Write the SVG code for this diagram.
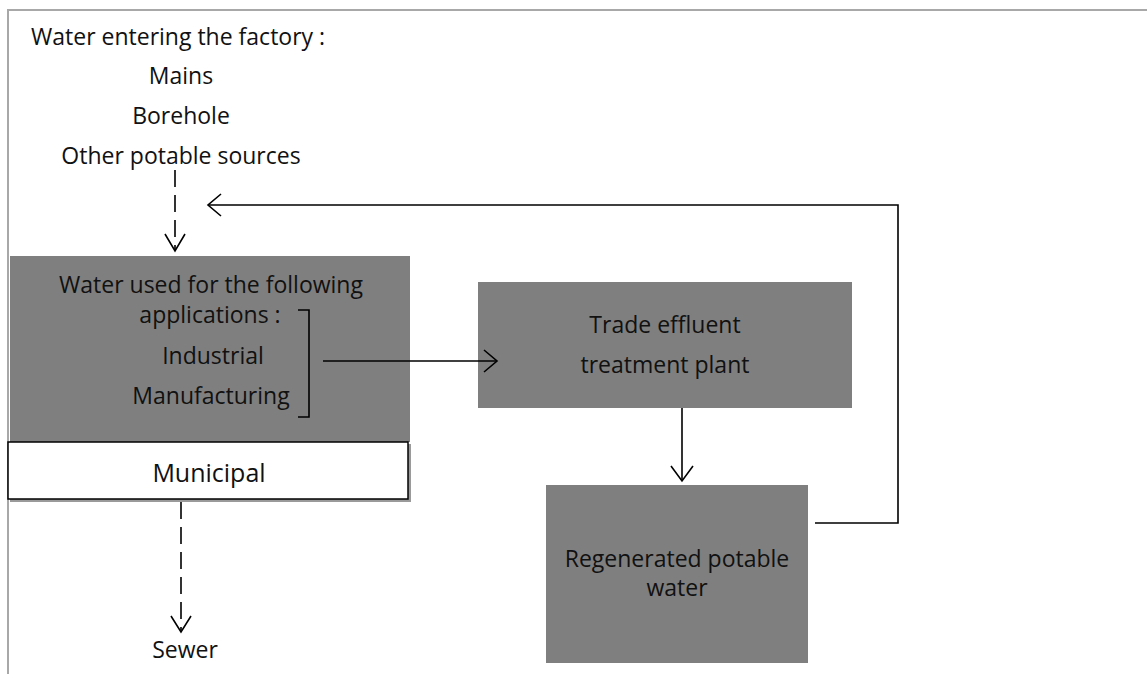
<svg xmlns="http://www.w3.org/2000/svg" width="1147" height="674" viewBox="0 0 1147 674">
  <defs>
    <style>
      .t { font-family: "Open Sans", "Liberation Sans", sans-serif; font-size: 23px; fill: #111; text-anchor: middle; }
      .ts { text-anchor: start; }
      .big { font-size: 25px; }
      .box { fill: #7f7f7f; }
      .line { fill: none; stroke: #000; stroke-width: 1.6; }
      .dash { stroke-dasharray: 17 8; }
      .head { fill: none; stroke: #000; stroke-width: 1.6; stroke-linejoin: miter; }
    </style>
  </defs>
  <rect width="1147" height="674" fill="#fff"/>

  <!-- page frame -->
  <path d="M8,674 V10 H1147" fill="none" stroke="#a8a8a8" stroke-width="2"/>

  <!-- sources -->
  <g id="sources">
    <text class="t ts" x="31" y="45">Water entering the factory :</text>
    <text class="t" x="181" y="84">Mains</text>
    <text class="t" x="181" y="124">Borehole</text>
    <text class="t" x="181" y="164">Other potable sources</text>
  </g>

  <!-- applications -->
  <g id="applications">
    <rect class="box" x="10" y="256" width="400" height="186"/>
    <text class="t" x="211" y="293">Water used for the following</text>
    <text class="t" x="210" y="323">applications :</text>
    <text class="t" x="213" y="364">Industrial</text>
    <text class="t" x="211" y="404">Manufacturing</text>
    <path class="line" d="M298,310 H309 V417 H298"/>
  </g>

  <!-- municipal -->
  <g id="municipal">
    <rect x="10" y="444" width="401" height="58" fill="#9a9a9a"/>
    <rect x="8" y="442" width="400" height="57" fill="#fff" stroke="#000" stroke-width="1.5"/>
    <text class="t big" x="209" y="482">Municipal</text>
  </g>

  <!-- treatment plant -->
  <g id="treatment">
    <rect class="box" x="478" y="282" width="374" height="126"/>
    <text class="t" x="665" y="333">Trade effluent</text>
    <text class="t" x="665" y="373">treatment plant</text>
  </g>

  <!-- regenerated water -->
  <g id="regenerated">
    <rect class="box" x="546" y="485" width="262" height="178"/>
    <text class="t" x="677" y="567">Regenerated potable</text>
    <text class="t" x="677" y="596">water</text>
  </g>

  <!-- sewer -->
  <g id="sewer">
    <text class="t" x="185" y="658">Sewer</text>
  </g>

  <!-- connectors -->
  <g id="connectors">
    <!-- sources to applications -->
    <path class="line dash" d="M175,170 V250"/>
    <path class="head" d="M165,234 L175,251 L185,234"/>
    <!-- applications to treatment -->
    <path class="line" d="M323,361 H496"/>
    <path class="head" d="M484,350 L497,361 L484,372"/>
    <!-- treatment to regenerated -->
    <path class="line" d="M682,408 V480"/>
    <path class="head" d="M671,466 L682,481 L693,466"/>
    <!-- regenerated back to intake -->
    <path class="line" d="M815,523 H898 V205 H209"/>
    <path class="head" d="M221,194 L208,205 L221,216"/>
    <!-- municipal to sewer -->
    <path class="line dash" d="M181,502 V630"/>
    <path class="head" d="M171,616 L181,632 L191,616"/>
  </g>
</svg>
